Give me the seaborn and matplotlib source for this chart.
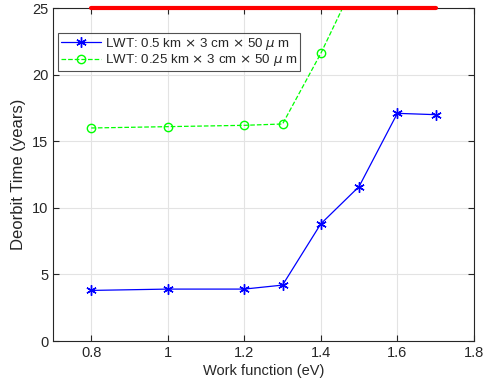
import pandas as pd
import matplotlib.pyplot as plt
import seaborn as sns

# --- DATA ---
work_fn = [0.8, 1.0, 1.2, 1.3, 1.4, 1.5, 1.6, 1.7]
deorbit_05km = [3.8, 3.9, 3.9, 4.2, 8.8, 11.6, 17.1, 17.0]
work_fn_025 = [0.8, 1.0, 1.2, 1.3, 1.4, 1.5]
deorbit_025km = [16.0, 16.1, 16.2, 16.3, 21.6, 27.6]
limit_x = [0.8, 1.7]
limit_y = [25, 25]

lbl_05 = r'LWT: 0.5 km $\times$ 3 cm $\times$ 50 $\mu$ m'
lbl_025 = r'LWT: 0.25 km $\times$ 3 cm $\times$ 50 $\mu$ m'

df_05 = pd.DataFrame({'wf': work_fn, 't': deorbit_05km})
df_025 = pd.DataFrame({'wf': work_fn_025, 't': deorbit_025km})
df_lim = pd.DataFrame({'wf': limit_x, 't': limit_y})

# --- PLOT ---
sns.set_style('whitegrid')
plt.rcParams['font.family'] = ['Liberation Sans', 'DejaVu Sans']

fig = plt.figure(figsize=(4.84, 3.9), dpi=100)
ax = fig.add_axes([0.1095, 0.1256, 0.8695, 0.8535])

sns.lineplot(data=df_lim, x='wf', y='t', ax=ax, color='red', linewidth=3,
             label='_nolegend_')
red = ax.lines[-1]
red.set_clip_on(False)
red.set_zorder(5)
sns.lineplot(data=df_05, x='wf', y='t', ax=ax, color='blue', linewidth=0.9,
             marker=(6, 2, 0), markersize=7.5, markeredgecolor='blue',
             markeredgewidth=1.0, label=lbl_05)
sns.lineplot(data=df_025, x='wf', y='t', ax=ax, color='#00ff00', linewidth=0.9,
             linestyle='--', dashes=(6, 5), marker='o', markersize=6,
             markerfacecolor='none', markeredgecolor='#00ff00',
             markeredgewidth=1.0, label=lbl_025)

ax.set_xlim(0.7, 1.8)
ax.set_ylim(0, 25)
ax.set_xticks([0.8, 1.0, 1.2, 1.4, 1.6, 1.8])
ax.set_xticklabels(['0.8', '1', '1.2', '1.4', '1.6', '1.8'])
ax.set_yticks([0, 5, 10, 15, 20, 25])
ax.set_xlabel('Work function (eV)', fontsize=10.5, labelpad=3)
ax.set_ylabel('Deorbit Time (years)', fontsize=12, labelpad=4)

ax.grid(True, color='#e3e3e3', linewidth=0.8)
for s in ax.spines.values():
    s.set_color('#262626')
    s.set_linewidth(0.8)
ax.tick_params(axis='both', direction='in', length=4, color='#262626',
               labelsize=10.5, labelcolor='#262626', top=True, right=True,
               left=True, bottom=True, labeltop=False, labelright=False)

leg = ax.legend(loc='upper left', bbox_to_anchor=(0.012, 0.925), fontsize=9.6,
                frameon=True, fancybox=False, edgecolor='#262626',
                handlelength=3.0, handletextpad=0.3, borderpad=0.2,
                labelspacing=0.05, borderaxespad=0)
leg.get_frame().set_linewidth(0.8)

plt.savefig('out.png', dpi=100)
plt.close()
